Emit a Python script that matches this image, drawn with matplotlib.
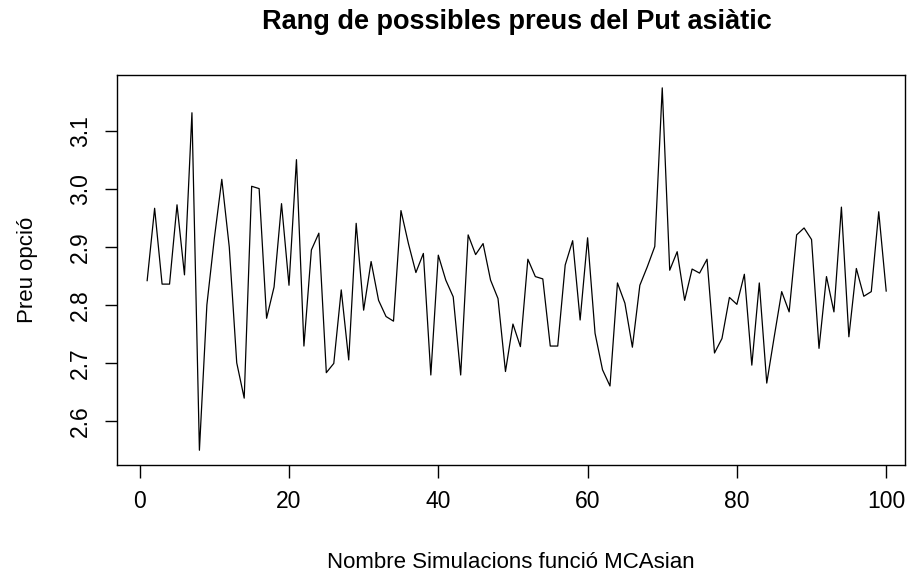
import numpy as np
import matplotlib.pyplot as plt

plt.rcParams['font.family'] = ['Liberation Sans', 'DejaVu Sans']

# preu estimat per a cada simulacio (1..100)
simulacio = np.arange(1, 101)
preu = [
    2.842, 2.967, 2.836, 2.836, 2.973, 2.852, 3.132, 2.549, 2.800, 2.915,
    3.017, 2.900, 2.700, 2.639, 3.005, 3.001, 2.777, 2.831, 2.975, 2.834,
    3.051, 2.729, 2.895, 2.924, 2.683, 2.699, 2.826, 2.705, 2.941, 2.791,
    2.875, 2.808, 2.780, 2.772, 2.963, 2.906, 2.856, 2.889, 2.679, 2.886,
    2.843, 2.814, 2.679, 2.921, 2.887, 2.906, 2.843, 2.811, 2.685, 2.767,
    2.728, 2.879, 2.849, 2.845, 2.729, 2.729, 2.869, 2.911, 2.774, 2.916,
    2.751, 2.688, 2.660, 2.838, 2.803, 2.727, 2.834, 2.866, 2.901, 3.175,
    2.860, 2.892, 2.808, 2.862, 2.855, 2.879, 2.717, 2.742, 2.813, 2.801,
    2.853, 2.696, 2.838, 2.665, 2.745, 2.823, 2.788, 2.921, 2.933, 2.913,
    2.725, 2.849, 2.788, 2.969, 2.745, 2.863, 2.815, 2.823, 2.961, 2.824,
]

xticks = [0, 20, 40, 60, 80, 100]
yticks = [2.6, 2.7, 2.8, 2.9, 3.0, 3.1]

fig = plt.figure(figsize=(9.14, 5.78), dpi=100)
ax = fig.add_axes([0.128, 0.1955, 0.862, 0.6745])

ax.plot(simulacio, preu, color='black', linewidth=0.9)
ax.set_xlim(-3.04, 102.5)
ax.set_ylim(2.5235, 3.197)

ax.set_xticks(xticks)
ax.set_xticklabels([str(t) for t in xticks])
ax.set_yticks(yticks)
ax.set_yticklabels(['%.1f' % t for t in yticks], rotation=90, va='center')
ax.tick_params(direction='out', length=9, width=1, labelsize=16.5, pad=9)

for s in ax.spines.values():
    s.set_linewidth(1)

ax.set_xlabel('Nombre Simulacions funció MCAsian', fontsize=16, labelpad=28)
ax.set_ylabel('Preu opció', fontsize=16, labelpad=22)
fig.suptitle('Rang de possibles preus del Put asiàtic', fontsize=19.5,
             fontweight='bold', x=0.566, y=0.984)

fig.savefig('out.png', dpi=100)
